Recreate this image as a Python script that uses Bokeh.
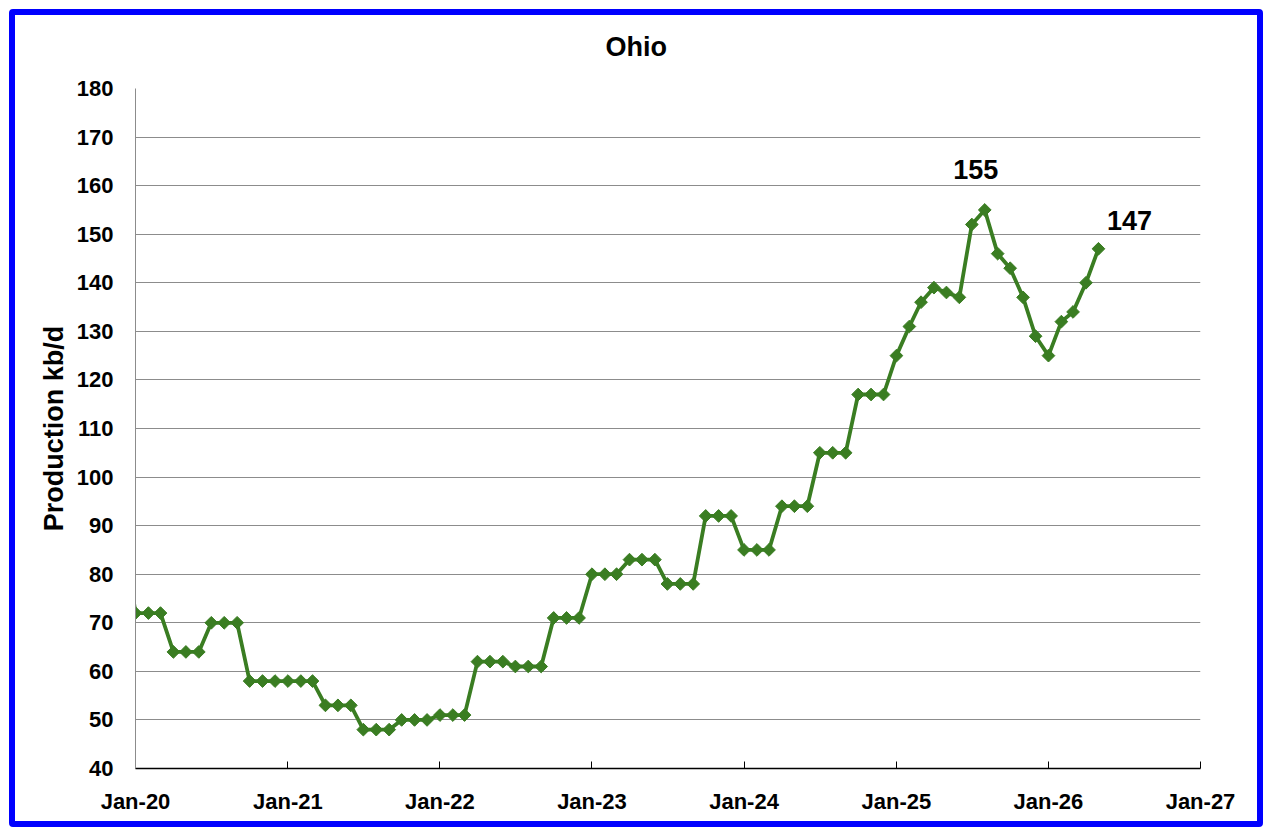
import numpy as np
import pandas as pd
from bokeh.plotting import figure
from bokeh.models import (Range1d, FixedTicker, DatetimeTickFormatter, Label,
                          InlineStyleSheet)
from bokeh.embed import file_html
from bokeh.resources import INLINE

# ---- data ----
production = [90,
    72, 72, 72, 64, 64, 64, 70, 70, 70, 58, 58, 58,
    58, 58, 58, 53, 53, 53, 48, 48, 48, 50, 50, 50,
    51, 51, 51, 62, 62, 62, 61, 61, 61, 71, 71, 71,
    80, 80, 80, 83, 83, 83, 78, 78, 78, 92, 92, 92,
    85, 85, 85, 94, 94, 94, 105, 105, 105, 117, 117, 117,
    125, 131, 136, 139, 138, 137, 152, 155, 146, 143, 137, 129,
    125, 132, 134, 140, 147]
first_month = "2019-12-01"
months = pd.date_range(first_month, periods=len(production), freq="MS")
tick_dates = ["2020-01-01", "2021-01-01", "2022-01-01", "2023-01-01",
              "2024-01-01", "2025-01-01", "2026-01-01", "2027-01-01"]
y_ticks = list(range(40, 181, 10))
title_text = "Ohio"
y_label = "Production kb/d"

GREEN = "#3A7D22"
FONT = "Liberation Sans"

tick_ms = [pd.Timestamp(d).value // 10**6 for d in tick_dates]

p = figure(width=1254, height=818, output_backend="svg", toolbar_location=None,
           x_axis_type="datetime",
           x_range=Range1d(tick_ms[0], tick_ms[-1]),
           y_range=Range1d(40, 180),
           min_border_left=120, min_border_right=69,
           min_border_top=84, min_border_bottom=53)
p.styles = {"border": "6px solid #0000FF", "border-radius": "4px",
            "margin-left": "9px", "margin-top": "9px"}
p.stylesheets = [InlineStyleSheet(css=":host { overflow: hidden; } "
                                      ".bk-Canvas { transform: translateY(-12px); }")]

p.title.text = title_text
p.title.text_font = FONT
p.title.text_font_size = "27px"
p.title.text_font_style = "bold"
p.title.text_color = "black"
p.title.align = "left"
p.title.offset = 470
p.title.standoff = 53

p.outline_line_color = None
p.xgrid.grid_line_color = None
p.ygrid.grid_line_color = "#8C8C8C"
p.ygrid.grid_line_width = 1

p.xaxis.ticker = FixedTicker(ticks=tick_ms)
p.xaxis.formatter = DatetimeTickFormatter(months="%b-%y", years="%b-%y", days="%b-%y")
p.xaxis.major_tick_in = 7
p.xaxis.major_tick_out = 0
p.xaxis.minor_tick_line_color = None
p.xaxis.axis_line_color = "black"
p.xaxis.axis_line_width = 1.5
p.xaxis.major_tick_line_color = "black"
p.xaxis.major_label_text_font = FONT
p.xaxis.major_label_text_font_size = "22px"
p.xaxis.major_label_text_font_style = "bold"
p.xaxis.major_label_text_color = "black"
p.xaxis.major_label_standoff = 20

p.yaxis.ticker = FixedTicker(ticks=y_ticks)
p.yaxis.major_tick_in = 0
p.yaxis.major_tick_out = 0
p.yaxis.minor_tick_line_color = None
p.yaxis.axis_line_color = "#8C8C8C"
p.yaxis.major_label_text_font = FONT
p.yaxis.major_label_text_font_size = "22px"
p.yaxis.major_label_text_font_style = "bold"
p.yaxis.major_label_text_color = "black"
p.yaxis.major_label_standoff = 22
p.yaxis.axis_label = y_label
p.yaxis.axis_label_text_font = FONT
p.yaxis.axis_label_text_font_size = "27px"
p.yaxis.axis_label_text_font_style = "bold"
p.yaxis.axis_label_text_color = "black"
p.yaxis.axis_label_standoff = 5

p.line(months, production, line_color=GREEN, line_width=3.8)
p.scatter(months, production, marker="square", size=9, angle=np.pi / 4,
          fill_color=GREEN, line_color=GREEN)

i_max = int(np.argmax(production))
i_last = len(production) - 1
for i, dx, dy in [(i_max, -9, 31), (i_last, 31, 19)]:
    p.add_layout(Label(x=months[i], y=production[i], text=str(production[i]),
                       x_offset=dx, y_offset=dy, text_align="center",
                       text_baseline="bottom", text_font=FONT,
                       text_font_size="27px", text_font_style="bold",
                       text_color="black"))

open("out.html", "w").write(file_html(p, INLINE))
